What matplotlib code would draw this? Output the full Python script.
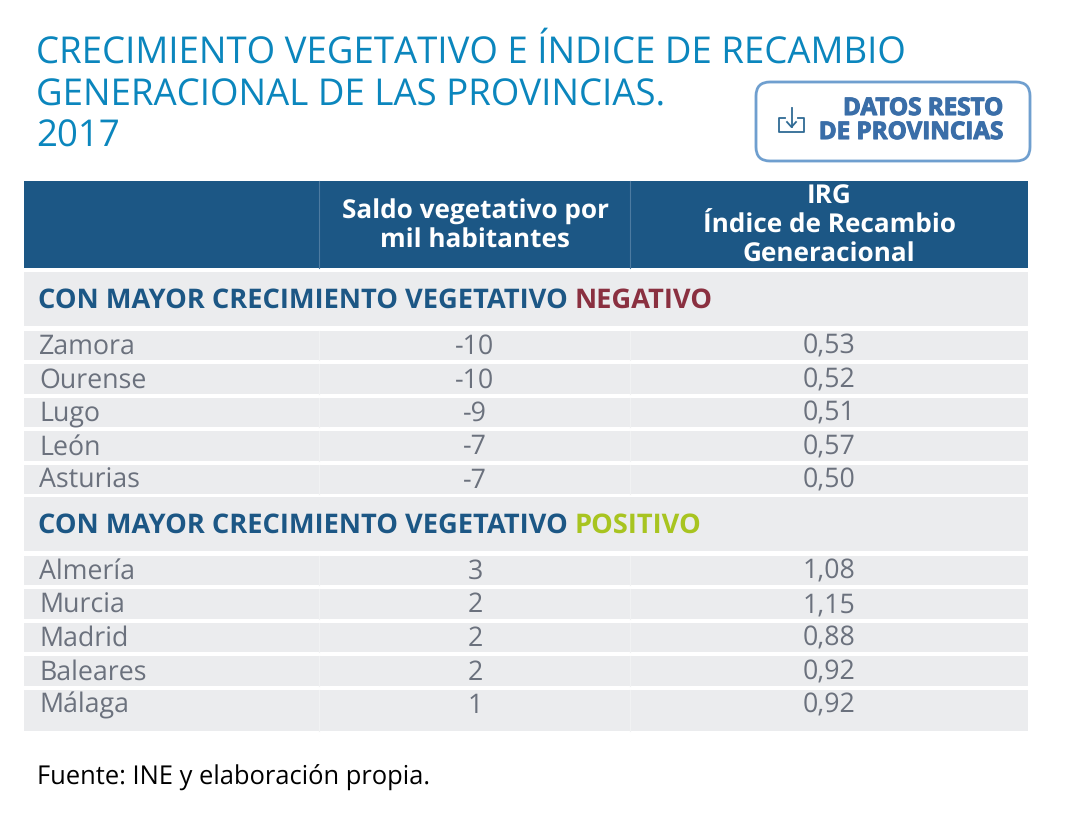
# -*- coding: UTF-8 -*-
import matplotlib
matplotlib.use('Agg')
import matplotlib.pyplot as plt
import matplotlib.patheffects as pe
from matplotlib.patches import Rectangle, FancyBboxPatch

plt.rcParams['font.family'] = ['Open Sans', 'DejaVu Sans']
plt.rcParams['text.hinting'] = 'no_hinting'

title_lines = ['CRECIMIENTO VEGETATIVO E ÍNDICE DE RECAMBIO',
               'GENERACIONAL DE LAS PROVINCIAS.',
               '2017']
header_saldo = ['Saldo vegetativo por', 'mil habitantes']
header_irg = ['IRG', 'Índice de Recambio', 'Generacional']
group_label = 'CON MAYOR CRECIMIENTO VEGETATIVO '

neg_provinces = ['Zamora', 'Ourense', 'Lugo', 'León', 'Asturias']
neg_saldo = ['-10', '-10', '-9', '-7', '-7']
neg_irg = ['0,53', '0,52', '0,51', '0,57', '0,50']

pos_provinces = ['Almería', 'Murcia', 'Madrid', 'Baleares', 'Málaga']
pos_saldo = ['3', '2', '2', '2', '1']
pos_irg = ['1,08', '1,15', '0,88', '0,92', '0,92']

source = 'Fuente: INE y elaboración propia.'

BLUE = '#1c5785'
GREY = '#ebecee'
ROW_TEXT = '#6b717d'
LEFT, RIGHT, DIV1, DIV2 = 24, 1028, 319, 630
COL1, COL2 = 475, 829
ROW_SIZE = 19.3
GROUP_SIZE = 19.6
HEAD_SIZE = 18.8


def cell(ax, top, bottom, color=GREY):
    ax.add_patch(Rectangle((LEFT, top), RIGHT - LEFT, bottom - top, fc=color, ec='none', zorder=1))


def draw_rows(ax, top, provinces, saldo, irg, last_extra=0):
    for i, (name, s, g) in enumerate(zip(provinces, saldo, irg)):
        y0 = top + i * 33.5
        y1 = y0 + 29.5 + (last_extra if i == len(provinces) - 1 else 0)
        cell(ax, y0, y1)
        for xd in (DIV1, DIV2):
            ax.plot([xd, xd], [y0, y1], color='#f1f2f3', lw=0.8, zorder=2)
        base = y0 + 23.5
        ax.text(39, base, name, color=ROW_TEXT, fontsize=ROW_SIZE, va='baseline')
        ax.text(COL1, base, s, color=ROW_TEXT, fontsize=ROW_SIZE, va='baseline', ha='center')
        ax.text(COL2, base, g, color=ROW_TEXT, fontsize=ROW_SIZE, va='baseline', ha='center')


def draw_group(ax, top, bottom, word, color):
    cell(ax, top, bottom)
    base = top + 36
    t = ax.text(38, base, group_label, color=BLUE, fontsize=GROUP_SIZE, fontweight='bold', va='baseline')
    ax.figure.canvas.draw()
    box = t.get_window_extent()
    x_end = ax.transData.inverted().transform((box.x1, 0))[0]
    ax.text(x_end, base, word, color=color, fontsize=GROUP_SIZE, fontweight='bold', va='baseline')


fig = plt.figure(figsize=(10.69, 8.25), dpi=100)
ax = fig.add_axes([0, 0, 1, 1])
ax.set_xlim(0, 1069)
ax.set_ylim(825, 0)
ax.axis('off')

for line, base in zip(title_lines, [63, 105, 147]):
    ax.text(36, base, line, color='#0b86bd', fontsize=26.4, va='baseline')

# button
ax.add_patch(FancyBboxPatch((762, 88), 262, 67, boxstyle='round,pad=6,rounding_size=14',
                            fc='white', ec='#6f9fcf', lw=2))
thick = [pe.withStroke(linewidth=0.8, foreground='#3a6ea8')]
ax.text(1003, 115, 'DATOS RESTO', color='#3a6ea8', fontsize=17.4, fontweight='bold', ha='right',
        va='baseline', path_effects=thick)
ax.text(1003, 139, 'DE PROVINCIAS', color='#3a6ea8', fontsize=17.4, fontweight='bold', ha='right',
        va='baseline', path_effects=thick)
ax.plot([785, 779, 779, 804, 804, 798], [118, 118, 132, 132, 118, 118], color='#2f6a94', lw=1.3)
ax.plot([791.5, 791.5], [108, 127], color='#2f6a94', lw=1.3)
ax.plot([787, 791.5, 796], [122, 127, 122], color='#2f6a94', lw=1.3)

# header
cell(ax, 181, 268, BLUE)
for xd in (DIV1, DIV2):
    ax.plot([xd, xd], [181, 268], color='#4d7ba1', lw=0.8, zorder=2)
for line, base in zip(header_saldo, [219, 248]):
    ax.text(COL1, base, line, color='white', fontsize=HEAD_SIZE, fontweight='bold', ha='center', va='baseline')
for line, base in zip(header_irg, [204, 233, 262]):
    ax.text(COL2, base, line, color='white', fontsize=HEAD_SIZE, fontweight='bold', ha='center', va='baseline')

draw_group(ax, 272, 326, 'NEGATIVO', '#8a3040')
draw_rows(ax, 330.5, neg_provinces, neg_saldo, neg_irg)
draw_group(ax, 497, 551, 'POSITIVO', '#a8c420')
draw_rows(ax, 555.5, pos_provinces, pos_saldo, pos_irg, last_extra=11.5)

ax.text(37, 785, source, color='black', fontsize=18.4, va='baseline')

fig.savefig('out.png', dpi=100)
